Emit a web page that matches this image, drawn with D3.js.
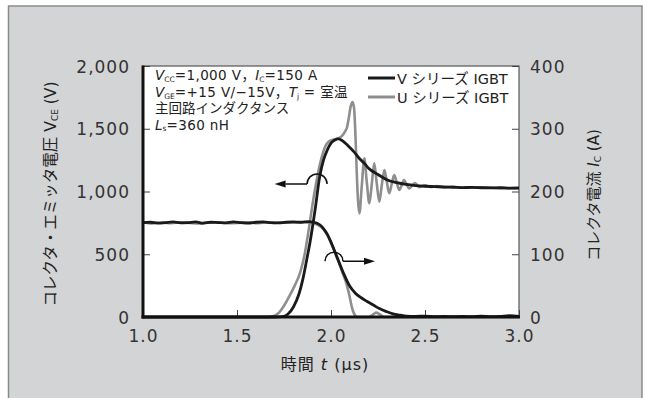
<!DOCTYPE html>
<html>
<head>
<meta charset="utf-8">
<script src="https://cdn.jsdelivr.net/npm/d3@7"></script>
<style>
  html, body { margin: 0; padding: 0; background: #fff; }
  svg { display: block; }
  .jp { font-family: "DejaVu Sans", "Noto Sans CJK JP", sans-serif; fill: #222; }
  .tick text { font-family: "DejaVu Sans", sans-serif; font-size: 17px; letter-spacing: 1px; fill: #333; }
  .tick line { stroke: #444; stroke-width: 1; }
</style>
</head>
<body>
<svg id="chart" width="646" height="398"></svg>
<script>
'use strict';

// tick values
const timeTicks = [1.0, 1.5, 2.0, 2.5, 3.0];
const voltTicks = [0, 500, 1000, 1500, 2000];
const currTicks = [0, 100, 200, 300, 400];

const voltV = [
    [1.00, 0], [1.70, 0], [1.74, 3], [1.77, 22], [1.80, 80], [1.83, 185], [1.85, 300],
    [1.87, 450], [1.89, 610], [1.915, 850], [1.94, 1120], [1.96, 1250], [1.98, 1330],
    [2.00, 1385], [2.02, 1410], [2.04, 1420], [2.06, 1405], [2.08, 1380], [2.10, 1350],
    [2.12, 1320], [2.15, 1265], [2.18, 1220], [2.20, 1185], [2.25, 1135], [2.30, 1092],
    [2.35, 1070], [2.40, 1056], [2.45, 1047], [2.50, 1042], [2.55, 1039], [2.60, 1036],
    [2.65, 1034], [2.70, 1031], [2.75, 1033], [2.80, 1030], [2.85, 1029], [2.90, 1030],
    [2.95, 1027], [3.00, 1028]
];
const voltU = [
    [1.00, 0], [1.66, 0], [1.69, 5], [1.72, 30], [1.75, 90], [1.78, 170], [1.81, 260],
    [1.835, 350], [1.86, 500], [1.88, 680], [1.90, 880], [1.92, 1060], [1.95, 1270],
    [1.97, 1360], [1.99, 1400], [2.01, 1412], [2.04, 1425], [2.06, 1445], [2.075, 1480],
    [2.085, 1510], [2.095, 1590], [2.105, 1680], [2.115, 1713], [2.123, 1660], [2.13, 1450],
    [2.137, 1150], [2.144, 920], [2.151, 826], [2.164, 1050], [2.177, 1264], [2.19, 1080],
    [2.204, 906], [2.217, 1060], [2.230, 1225], [2.243, 1070], [2.257, 919], [2.270, 1050],
    [2.284, 1171], [2.297, 1075], [2.310, 986], [2.323, 1060], [2.336, 1131], [2.350, 1070],
    [2.363, 1012], [2.376, 1050], [2.388, 1092], [2.402, 1058], [2.415, 1025], [2.447, 1067],
    [2.47, 1035], [2.50, 1050], [2.53, 1036], [2.56, 1044], [2.60, 1034], [2.65, 1038],
    [2.70, 1030], [2.80, 1033], [2.90, 1027], [3.00, 1026]
];

const currV = [
    [1.00, 150.5], [1.04, 151], [1.08, 149.5], [1.12, 150.5], [1.16, 151.5], [1.20, 150],
    [1.24, 150.5], [1.28, 151.5], [1.32, 149.5], [1.36, 151], [1.40, 150.5], [1.44, 150],
    [1.48, 151.5], [1.52, 150.5], [1.56, 149.5], [1.60, 151], [1.64, 151.5], [1.68, 150.5],
    [1.72, 150], [1.76, 151], [1.80, 151.5], [1.84, 151], [1.88, 152], [1.91, 151],
    [1.94, 147], [1.96, 141], [1.98, 132], [2.00, 119], [2.03, 97], [2.066, 70],
    [2.10, 49], [2.13, 38], [2.154, 32], [2.19, 25], [2.225, 19], [2.26, 13], [2.296, 8.5],
    [2.33, 5], [2.367, 3], [2.40, 1.5], [2.45, 1], [2.50, 1.5], [2.55, 0.5], [2.60, 1],
    [2.65, 0.5], [2.70, 1], [2.75, 0.5], [2.80, 1.5], [2.85, 0.5], [2.90, 1], [2.95, 2],
    [3.00, 1]
];
const currU = [
    [1.00, 151], [1.05, 149], [1.10, 150.5], [1.15, 149.5], [1.20, 151], [1.25, 150],
    [1.30, 149], [1.35, 150.5], [1.40, 151], [1.45, 149.5], [1.50, 150], [1.55, 151],
    [1.60, 149.5], [1.65, 150.5], [1.70, 150], [1.75, 151], [1.80, 150.5], [1.86, 151],
    [1.90, 150], [1.93, 147], [1.96, 140], [1.98, 131], [2.00, 119], [2.03, 96],
    [2.06, 72], [2.08, 55], [2.095, 38], [2.11, 17], [2.125, 4], [2.14, 0], [2.20, 0],
    [2.22, 3], [2.24, 7], [2.26, 4], [2.28, 0], [3.00, 0]
];

// arrow anchors (data coords): loop centre on the curve, arrow tip
const arrowV = {t: 1.926, v: 1060, tipT: 1.70};
const arrowI = {t: 2.016, i: 89, tipT: 2.234};

const svg = d3.select('#chart');

const margin = {left: 143, right: 519, top: 66, bottom: 317};

const x = d3.scaleLinear().domain([1, 3]).range([margin.left, margin.right]);
const yV = d3.scaleLinear().domain([0, 2000]).range([margin.bottom, margin.top]);
const yI = d3.scaleLinear().domain([0, 400]).range([margin.bottom, margin.top]);

// grey panel
svg.append('rect')
    .attr('x', 8.5).attr('y', 6)
    .attr('width', 633.5).attr('height', 420)
    .attr('fill', '#d3d4d6')
    .attr('stroke', '#8a8a8a')
    .attr('stroke-width', 1.5);

// plot area
svg.append('rect')
    .attr('x', margin.left).attr('y', margin.top)
    .attr('width', margin.right - margin.left)
    .attr('height', margin.bottom - margin.top)
    .attr('fill', '#fff')
    .attr('stroke', '#555')
    .attr('stroke-width', 1.2);

// axes (ticks pointing in)
let leftAxis = svg.append('g')
    .attr('transform', `translate(${margin.left},0)`)
    .call(d3.axisLeft(yV).tickValues(voltTicks).tickSize(-7).tickPadding(13).tickFormat(d3.format(',')));

let rightAxis = svg.append('g')
    .attr('transform', `translate(${margin.right},0)`)
    .call(d3.axisRight(yI).tickValues(currTicks).tickSize(-7).tickPadding(11));

let bottomAxis = svg.append('g')
    .attr('transform', `translate(0,${margin.bottom})`)
    .call(d3.axisBottom(x).tickValues(timeTicks).tickSize(-7).tickPadding(13).tickFormat(d3.format('.1f')));

[leftAxis, rightAxis, bottomAxis].forEach((g) => {
    g.select('.domain').remove();
    g.attr('font-size', null).attr('font-family', null);
});
leftAxis.selectAll('text').attr('dy', '0.36em');
rightAxis.selectAll('text').attr('dy', '0.36em');

// curves
const lineV = d3.line().x((d) => x(d[0])).y((d) => yV(d[1])).curve(d3.curveMonotoneX);
const lineI = d3.line().x((d) => x(d[0])).y((d) => yI(d[1])).curve(d3.curveMonotoneX);

const curves = [
    {data: voltU, gen: lineV, colour: '#8e8e8e', width: 2.6},
    {data: currU, gen: lineI, colour: '#8e8e8e', width: 2.6},
    {data: voltV, gen: lineV, colour: '#1a1a1a', width: 2.8},
    {data: currV, gen: lineI, colour: '#1a1a1a', width: 2.8}
];

curves.forEach((c) => {
    svg.append('path')
        .attr('d', c.gen(c.data))
        .attr('fill', 'none')
        .attr('stroke', c.colour)
        .attr('stroke-width', c.width)
        .attr('stroke-linejoin', 'round');
});

// thick left and bottom axis lines
svg.append('line')
    .attr('x1', margin.left).attr('x2', margin.left)
    .attr('y1', margin.top - 0.5).attr('y2', margin.bottom + 1.5)
    .attr('stroke', '#111').attr('stroke-width', 3);
svg.append('line')
    .attr('x1', margin.left - 1.5).attr('x2', margin.right + 1)
    .attr('y1', margin.bottom).attr('y2', margin.bottom)
    .attr('stroke', '#111').attr('stroke-width', 3);

// loop-and-arrow markers showing which axis each curve belongs to
function drawArrow(cx, cy, tipX, r) {

    let dir = tipX < cx ? -1 : 1;
    let foot = cx + dir * r;
    let head = 11;

    svg.append('path')
        .attr('d', `M${cx - r},${cy} A${r},${r} 0 0 1 ${cx + r},${cy} M${foot},${cy} L${tipX - dir * head},${cy}`)
        .attr('fill', 'none')
        .attr('stroke', '#111')
        .attr('stroke-width', 1.5);

    svg.append('path')
        .attr('d', `M${tipX},${cy} L${tipX - dir * head},${cy - 3.5} L${tipX - dir * head},${cy + 3.5} Z`)
        .attr('fill', '#111');
}

drawArrow(x(arrowV.t), yV(arrowV.v), x(arrowV.tipT), 10);
drawArrow(x(arrowI.t), yI(arrowI.i), x(arrowI.tipT), 9);

// condition notes
const notes = svg.append('g').attr('class', 'jp').attr('font-size', 13.5);

function addNote(y, parts) {

    let t = notes.append('text').attr('x', 155).attr('y', y);
    parts.forEach((p) => {
        let s = t.append('tspan').text(p.text);
        if(p.italic) {
            s.attr('font-style', 'italic');
        }
        if(p.sub) {
            s.attr('font-size', 7.5).attr('dy', 1.5);
        }
        if(p.up) {
            s.attr('dy', -1.5).attr('letter-spacing', 0.4);
        }
    });
}

addNote(80, [
    {text: 'V', italic: true}, {text: 'CC', sub: true}, {text: '=1,000 V，', up: true},
    {text: 'I', italic: true}, {text: 'C', sub: true}, {text: '=150 A', up: true}
]);
addNote(97, [
    {text: 'V', italic: true}, {text: 'GE', sub: true}, {text: '=+15 V/−15V，', up: true},
    {text: 'T', italic: true}, {text: 'j', sub: true}, {text: ' = 室温', up: true}
]);
addNote(113, [{text: '主回路インダクタンス'}]);
addNote(129.5, [
    {text: 'L', italic: true}, {text: 's', sub: true}, {text: '=360 nH', up: true}
]);

// legend
const legend = [
    {label: 'V シリーズ IGBT', colour: '#1a1a1a', y: 78},
    {label: 'U シリーズ IGBT', colour: '#8e8e8e', y: 97}
];

legend.forEach((l) => {
    svg.append('line')
        .attr('x1', 368).attr('x2', 395)
        .attr('y1', l.y).attr('y2', l.y)
        .attr('stroke', l.colour).attr('stroke-width', 3);
    svg.append('text')
        .attr('class', 'jp')
        .attr('x', 397).attr('y', l.y + 6)
        .attr('font-size', 14.5)
        .text(l.label);
});

// axis titles
let xTitle = svg.append('text')
    .attr('class', 'jp')
    .attr('x', 325).attr('y', 370)
    .attr('text-anchor', 'middle')
    .attr('font-size', 16)
    .attr('letter-spacing', 1);
xTitle.append('tspan').text('時間 ');
xTitle.append('tspan').attr('font-style', 'italic').text('t');
xTitle.append('tspan').text(' (μs)');

let yTitleL = svg.append('text')
    .attr('class', 'jp')
    .attr('transform', 'translate(56,194) rotate(-90)')
    .attr('text-anchor', 'middle')
    .attr('font-size', 15.5);
yTitleL.append('tspan').text('コレクタ・エミッタ電圧 V');
yTitleL.append('tspan').attr('font-size', 9).attr('dy', 2).text('CE');
yTitleL.append('tspan').attr('dy', -2).text(' (V)');

let yTitleR = svg.append('text')
    .attr('class', 'jp')
    .attr('transform', 'translate(599,195) rotate(-90)')
    .attr('text-anchor', 'middle')
    .attr('font-size', 15);
yTitleR.append('tspan').text('コレクタ電流 ');
yTitleR.append('tspan').attr('font-style', 'italic').text('I');
yTitleR.append('tspan').attr('font-size', 9).attr('dy', 2).text('C');
yTitleR.append('tspan').attr('dy', -2).text(' (A)');
</script>
</body>
</html>
